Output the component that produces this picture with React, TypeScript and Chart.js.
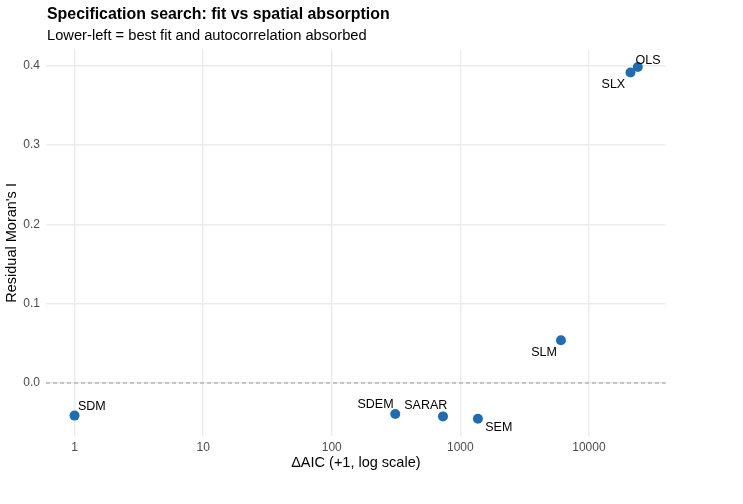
import React, { useEffect, useRef } from "react";
import { Chart, registerables } from "chart.js";

Chart.register(...registerables);

// ---- data ----
const models = ["OLS", "SLX", "SLM", "SEM", "SARAR", "SDEM", "SDM"];
const deltaAicPlus1 = [24000, 21050, 6060, 1370, 733, 312, 1];
const moransI = [0.398, 0.391, 0.054, -0.045, -0.042, -0.039, -0.041];
const xTickValues = [1, 10, 100, 1000, 10000];
const yTickValues = [0, 0.1, 0.2, 0.3, 0.4];

// label placement relative to each point (pixels), like ggrepel output
const labelDx = [-2.3, -5.3, -4, 7.3, -38.7, -1.7, 3.4];
const labelDy = [-3.4, 15, 15.4, 12.3, -7.4, -6.3, -6];
const labelAlign: CanvasTextAlign[] = ["left", "right", "right", "left", "left", "right", "left"];

const TITLE = "Specification search: fit vs spatial absorption";
const SUBTITLE = "Lower-left = best fit and autocorrelation absorbed";
const X_TITLE = "\u0394AIC (+1, log scale)";
const Y_TITLE = "Residual Moran's I";

const FONT = "'Liberation Sans', Arial, Helvetica, sans-serif";
const POINT_COLOR = "#1F6DB0";
const GRID_COLOR = "#EBEBEB";

const W = 743;
const H = 504;

const overlayPlugin = {
  id: "overlay",
  beforeDatasetsDraw(chart: any) {
    const { ctx, chartArea, scales } = chart;
    const y0 = scales.y.getPixelForValue(0);
    ctx.save();
    ctx.strokeStyle = "#999999";
    ctx.lineWidth = 1.1;
    ctx.setLineDash([4, 3]);
    ctx.beginPath();
    ctx.moveTo(chartArea.left, y0);
    ctx.lineTo(chartArea.right, y0);
    ctx.stroke();
    ctx.restore();
  },
  afterDatasetsDraw(chart: any) {
    const { ctx, scales } = chart;
    ctx.save();
    ctx.font = `12.5px ${FONT}`;
    ctx.fillStyle = "#000000";
    ctx.textBaseline = "alphabetic";
    models.forEach((m, i) => {
      const px = scales.x.getPixelForValue(deltaAicPlus1[i]);
      const py = scales.y.getPixelForValue(moransI[i]);
      ctx.textAlign = labelAlign[i];
      ctx.fillText(m, px + labelDx[i], py + labelDy[i]);
    });
    ctx.restore();
  },
  afterDraw(chart: any) {
    const { ctx, chartArea } = chart;
    ctx.save();
    ctx.fillStyle = "#000000";
    ctx.textAlign = "left";
    ctx.textBaseline = "alphabetic";
    ctx.font = `bold 15.9px ${FONT}`;
    ctx.fillText(TITLE, chartArea.left + 1, 18.5);
    ctx.font = `14.7px ${FONT}`;
    ctx.fillText(SUBTITLE, chartArea.left + 1, 39.5);
    ctx.restore();
  },
};

export default function App() {
  const canvasRef = useRef<HTMLCanvasElement | null>(null);

  useEffect(() => {
    if (!canvasRef.current) return;
    const chart = new Chart(canvasRef.current, {
      type: "scatter",
      data: {
        datasets: [
          {
            label: "models",
            data: models.map((_, i) => ({ x: deltaAicPlus1[i], y: moransI[i] })),
            backgroundColor: POINT_COLOR,
            borderColor: POINT_COLOR,
            borderWidth: 0,
            pointRadius: 5,
            pointHoverRadius: 5,
          },
        ],
      },
      options: {
        animation: false,
        responsive: false,
        devicePixelRatio: 1,
        layout: { padding: { top: 49.4, right: 77.3, bottom: 0, left: 0 } },
        plugins: {
          legend: { display: false },
          tooltip: { enabled: false },
          title: { display: false },
        },
        scales: {
          x: {
            type: "logarithmic",
            min: Math.pow(10, -0.22),
            max: Math.pow(10, 4.597),
            afterBuildTicks: (scale: any) => {
              scale.ticks = xTickValues.map((v) => ({ value: v }));
            },
            afterFit: (scale: any) => {
              scale.height = 67.6;
            },
            ticks: {
              autoSkip: false,
              maxRotation: 0,
              padding: 4,
              color: "#4D4D4D",
              font: { family: FONT, size: 12 },
              callback: (v: any) => String(v),
            },
            grid: { color: GRID_COLOR, lineWidth: 1.4, drawTicks: false },
            border: { display: false },
            title: {
              display: true,
              text: X_TITLE,
              color: "#000000",
              font: { family: FONT, size: 14.5 },
              padding: { top: 0, bottom: 32.8 },
            },
          },
          y: {
            type: "linear",
            min: -0.0672,
            max: 0.4202,
            afterBuildTicks: (scale: any) => {
              scale.ticks = yTickValues.map((v) => ({ value: v }));
            },
            afterFit: (scale: any) => {
              scale.width = 46;
            },
            ticks: {
              padding: 6,
              color: "#4D4D4D",
              font: { family: FONT, size: 12 },
              callback: (v: any) => Number(v).toFixed(1),
            },
            grid: { color: GRID_COLOR, lineWidth: 1.4, drawTicks: false },
            border: { display: false },
            title: {
              display: true,
              text: Y_TITLE,
              color: "#000000",
              font: { family: FONT, size: 14.5 },
              padding: { top: 3.3, bottom: 0 },
            },
          },
        },
      },
      plugins: [overlayPlugin],
    });
    return () => chart.destroy();
  }, []);

  return (
    <div style={{ position: "absolute", left: 0, top: 0, width: W, height: H, background: "#fff" }}>
      <canvas ref={canvasRef} width={W} height={H} style={{ width: W, height: H, display: "block" }} />
    </div>
  );
}
